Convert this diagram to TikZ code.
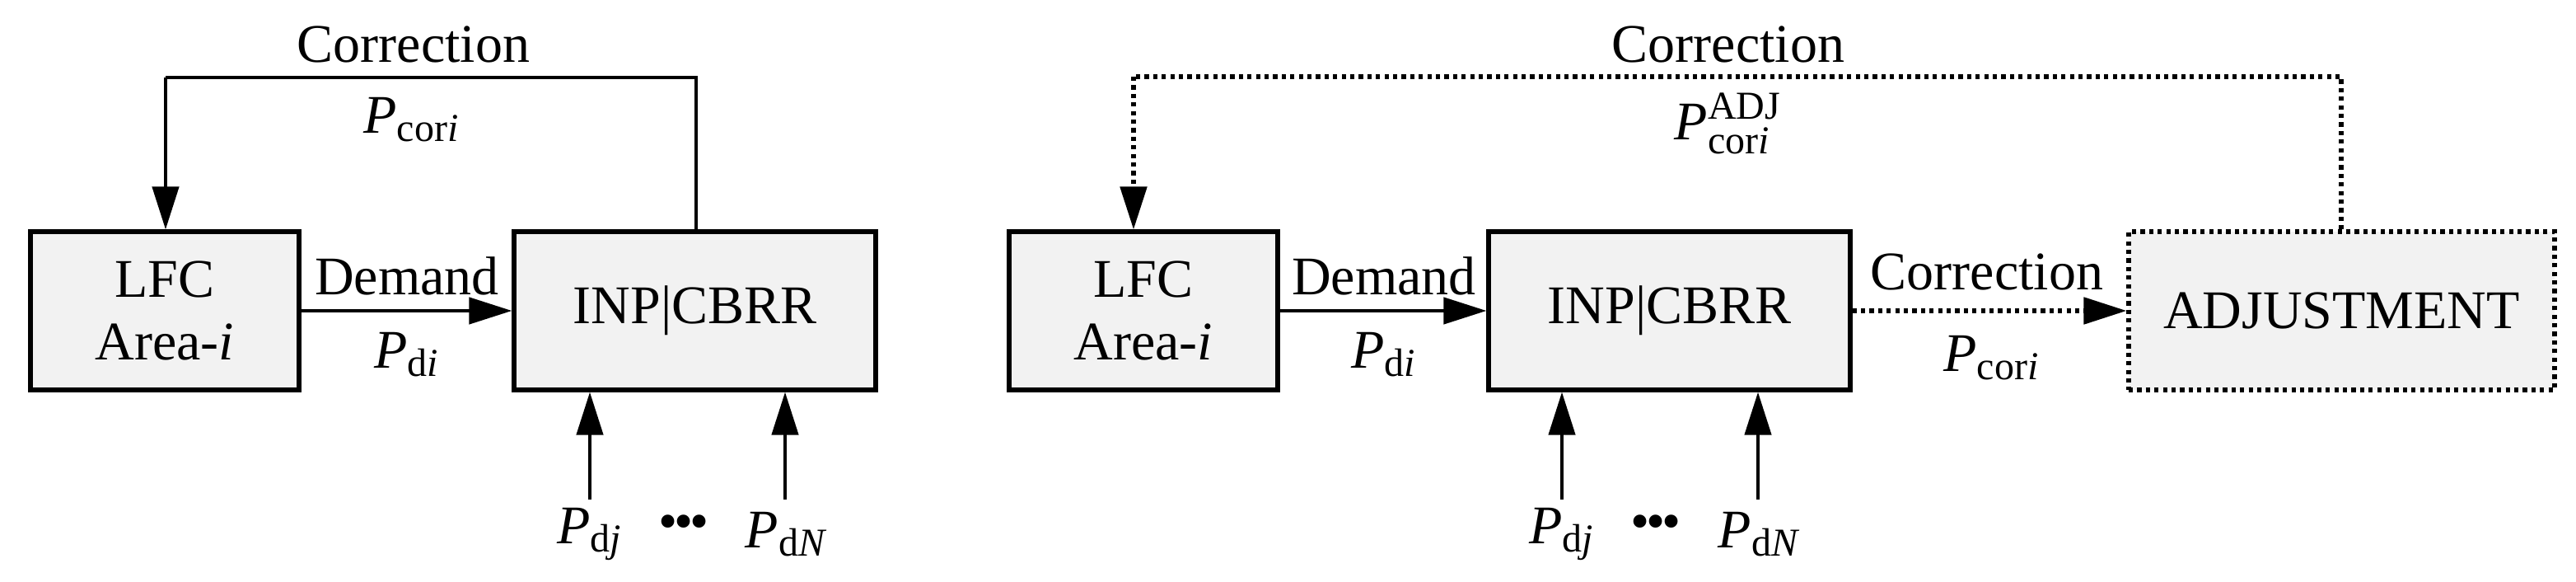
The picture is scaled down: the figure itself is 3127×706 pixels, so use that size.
\documentclass[tikz,border=0pt]{standalone}
\usepackage{fontspec}
\setmainfont{Liberation Serif}
\usetikzlibrary{arrows.meta}
\begin{document}
\newcommand{\sub}[1]{\hbox{\fontsize{12}{12}\selectfont #1}}
\begin{tikzpicture}[x=0.25pt,y=-0.25pt,
  every node/.style={font=\fontsize{16.5}{19}\selectfont},
  box/.style={draw,line width=1.3pt,fill=black!5,minimum height=48pt,align=center,inner sep=0pt},
  arr/.style={line width=1.1pt,-{Triangle[length=13pt,width=8pt]}},
  ln/.style={line width=1.1pt},
  dot/.style={line width=1.3pt,dash pattern=on 1.3pt off 1.3pt}]
\useasboundingbox (0,0) rectangle (3127,706);
% left figure
\node[box,minimum width=81.5pt] (lfcL) at (200,377) {LFC\\Area-\textit{i}};
\node[box,minimum width=109.75pt] (inpL) at (843.5,377) {INP|CBRR};
\coordinate (fbL1) at (845,94);
\coordinate (fbL2) at (201,94);
\draw[ln] (inpL.north -| fbL1) -- (fbL1) -- (fbL2);
\draw[arr] (fbL2) -- (lfcL.north -| fbL2);
\node (corL) at (502,54) {Correction};
\node (pcorL) at (500,145) {$\textit{P}_{\sub{cor\textit{i}}}$};
\draw[arr] (lfcL.east) -- (inpL.west);
\node (demL) at (494,335) {Demand};
\node (pdiL) at (494,430) {$\textit{P}_{\sub{d\textit{i}}}$};
\coordinate (bjL) at (716,606);
\coordinate (bnL) at (953,606);
\draw[arr] (bjL) -- (inpL.south -| bjL);
\draw[arr] (bnL) -- (inpL.south -| bnL);
\node (pdjL) at (716,648) {$\textit{P}_{\sub{d\textit{j}}}$};
\node (pdnL) at (955,648) {$\textit{P}_{\sub{d\textit{N}}}$};
\node (dotsL) at (830,640) {\textbullet\kern-1pt\textbullet\kern-1pt\textbullet};
% right figure
\node[box,minimum width=81.5pt] (lfcR) at (1388,377) {LFC\\Area-\textit{i}};
\node[box,minimum width=109.75pt] (inpR) at (2026.5,377) {INP|CBRR};
\node[box,dot,minimum width=129.25pt] (adj) at (2842.5,377) {ADJUSTMENT};
\coordinate (fbR1) at (2842,93);
\coordinate (fbR2) at (1376,93);
\draw[dot] (adj.north -| fbR1) -- (fbR1) -- (fbR2);
\draw[dot,-{Triangle[length=13pt,width=8pt]}] (fbR2) -- (lfcR.north -| fbR2);
\node (corR) at (2098,54) {Correction};
\node (pcorR) at (2098,150) {$\textit{P}^{\sub{ADJ}}_{\sub{cor\textit{i}}}$};
\draw[arr] (lfcR.east) -- (inpR.west);
\node (demR) at (1680,335) {Demand};
\node (pdiR) at (1680,430) {$\textit{P}_{\sub{d\textit{i}}}$};
\draw[dot,-{Triangle[length=13pt,width=8pt]}] (inpR.east) -- (adj.west);
\node (cor2R) at (2412,330) {Correction};
\node (pcor2R) at (2418,434) {$\textit{P}_{\sub{cor\textit{i}}}$};
\coordinate (bjR) at (1896,606);
\coordinate (bnR) at (2134,606);
\draw[arr] (bjR) -- (inpR.south -| bjR);
\draw[arr] (bnR) -- (inpR.south -| bnR);
\node (pdjR) at (1896,648) {$\textit{P}_{\sub{d\textit{j}}}$};
\node (pdnR) at (2136,648) {$\textit{P}_{\sub{d\textit{N}}}$};
\node (dotsR) at (2010,640) {\textbullet\kern-1pt\textbullet\kern-1pt\textbullet};
\end{tikzpicture}
\end{document}
